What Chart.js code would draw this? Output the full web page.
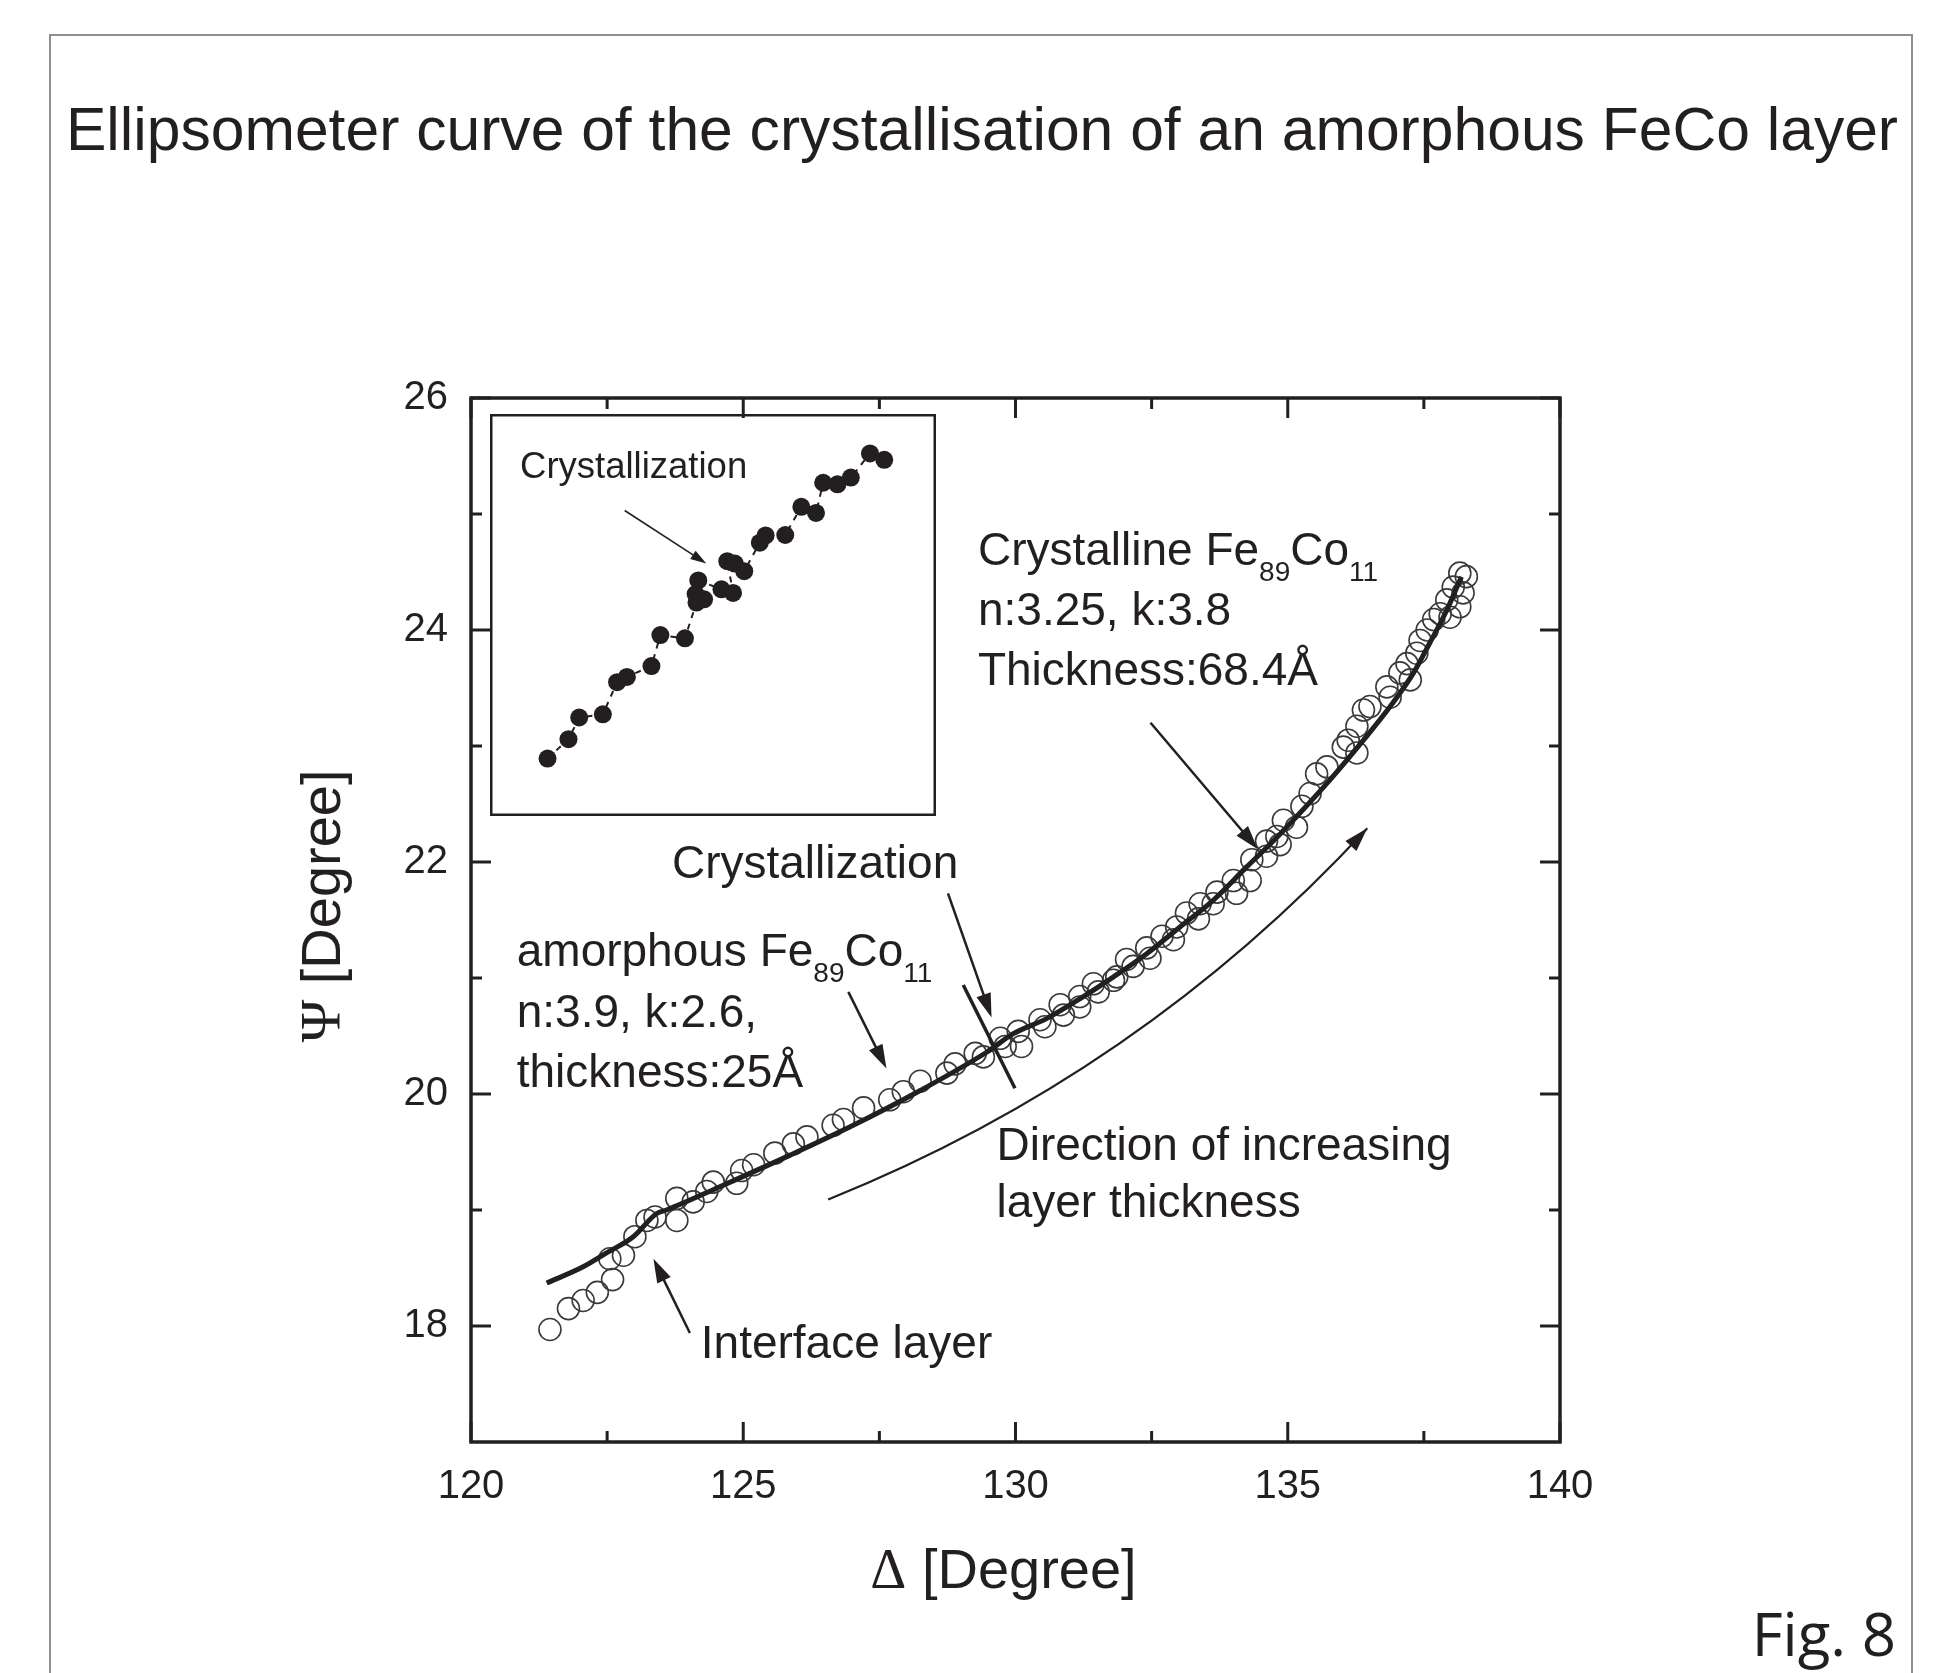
<!DOCTYPE html>
<html>
<head>
<meta charset="utf-8">
<title>Ellipsometer curve</title>
<script src="https://cdn.jsdelivr.net/npm/chart.js@4.4.1/dist/chart.umd.min.js"></script>
<style>
  html, body { margin: 0; padding: 0; background: #fff; }
  #wrap { position: relative; width: 1960px; height: 1673px; overflow: hidden; }
  #main { position: absolute; left: 0; top: 0; }
  #inset { position: absolute; left: 490px; top: 414px; }
</style>
</head>
<body>
<div id="wrap">
  <canvas id="main" width="1960" height="1673"></canvas>
  <canvas id="inset" width="446" height="402"></canvas>
</div>
<script>
// ---- data ----
var chartTitle = 'Ellipsometer curve of the crystallisation of an amorphous FeCo layer';
var figLabel = 'Fig. 8';

// measured points (open circles), Delta / Psi in degrees
var measDelta = [121.45, 121.79, 122.06, 122.32, 122.60, 122.55, 122.80, 123.01, 123.23, 123.38,
  123.78, 123.78, 124.08, 124.33, 124.45, 124.88, 124.97, 125.19, 125.58, 125.92,
  126.17, 126.65, 126.84, 127.21, 127.69, 127.94, 128.25, 128.74, 128.89, 129.26,
  129.41, 129.72, 129.81, 130.05, 130.11, 130.45, 130.54, 130.82, 130.88, 131.18,
  131.18, 131.43, 131.52, 131.80, 131.86, 132.04, 132.16, 132.41, 132.47, 132.69,
  132.90, 132.96, 133.14, 133.36, 133.39, 133.63, 133.70, 134.00, 134.06, 134.31,
  134.34, 134.61, 134.61, 134.80, 134.86, 134.92, 135.16, 135.26, 135.41, 135.53,
  135.72, 136.02, 136.11, 136.27, 136.27, 136.39, 136.51, 136.82, 136.88, 137.06,
  137.19, 137.25, 137.37, 137.43, 137.56, 137.68, 137.80, 137.92, 137.98, 138.04,
  138.16, 138.16, 138.22, 138.28];
var measPsi = [17.97, 18.15, 18.22, 18.29, 18.40, 18.58, 18.61, 18.77, 18.91, 18.94,
  18.91, 19.10, 19.07, 19.16, 19.24, 19.23, 19.34, 19.39, 19.49, 19.57,
  19.63, 19.73, 19.78, 19.88, 19.95, 20.02, 20.11, 20.18, 20.26, 20.35,
  20.32, 20.48, 20.41, 20.54, 20.41, 20.64, 20.58, 20.77, 20.68, 20.84,
  20.75, 20.95, 20.88, 20.98, 21.01, 21.16, 21.10, 21.26, 21.17, 21.36,
  21.33, 21.44, 21.56, 21.51, 21.64, 21.64, 21.74, 21.84, 21.73, 21.84,
  22.02, 22.05, 22.18, 22.22, 22.15, 22.36, 22.30, 22.48, 22.59, 22.76,
  22.82, 22.99, 23.05, 22.94, 23.17, 23.31, 23.34, 23.51, 23.42, 23.63,
  23.71, 23.57, 23.80, 23.91, 24.00, 24.09, 24.14, 24.26, 24.11, 24.37,
  24.49, 24.20, 24.32, 24.46];

// model curve (solid line)
var fitDelta = [121.39, 122.06, 122.49, 122.98, 123.41, 123.59, 124.57, 125.80, 127.02, 128.25,
  129.47, 129.96, 130.57, 131.18, 131.80, 132.41, 133.02, 133.63, 134.25, 134.67,
  135.16, 135.78, 136.39, 136.88, 137.31, 137.61, 137.92, 138.19];
var fitPsi = [18.37, 18.51, 18.63, 18.77, 18.97, 19.00, 19.20, 19.46, 19.73, 20.03,
  20.36, 20.52, 20.65, 20.82, 21.01, 21.21, 21.44, 21.67, 21.96, 22.15,
  22.39, 22.71, 23.05, 23.34, 23.63, 23.89, 24.17, 24.46];

// inset series (the inset has no axes; relative units 0-100 across the box)
var insetX = [12.9, 17.6, 20.0, 25.3, 28.5, 30.7, 36.2, 38.2, 43.7, 46.3, 48.0, 46.1, 46.7, 51.9,
  54.5, 53.2, 54.9, 57.0, 60.5, 61.8, 66.2, 69.8, 73.1, 74.7, 77.9, 80.9, 85.2, 88.4];
var insetY = [14.3, 19.1, 24.5, 25.3, 33.3, 34.6, 37.3, 45.0, 44.2, 53.1, 53.9, 55.2, 58.6, 56.4,
  55.5, 63.4, 62.8, 60.9, 68.0, 69.8, 69.9, 76.9, 75.4, 82.9, 82.5, 84.2, 90.2, 88.6];

var xTicks = [120, 125, 130, 135, 140];
var xMinor = [122.5, 127.5, 132.5, 137.5];
var yTicks = [18, 20, 22, 24, 26];
var yMinor = [19, 21, 23, 25];

// ---- styling ----
var INK = '#231f20';
var SANS = "'Liberation Sans', Arial, Helvetica, sans-serif";
var SERIF = "'Liberation Serif', 'Times New Roman', serif";

function pts(xs, ys) { return xs.map(function(x, i) { return { x: x, y: ys[i] }; }); }

// text parts: [string, isSubscript]
var notes = [
  { at: [129.31, 24.56], parts: [['Crystalline Fe', 0], ['89', 1], ['Co', 0], ['11', 1]] },
  { at: [129.31, 24.04], parts: [['n:3.25, k:3.8', 0]] },
  { at: [129.31, 23.53], parts: [['Thickness:68.4\u00c5', 0]] },
  { at: [123.69, 21.86], parts: [['Crystallization', 0]] },
  { at: [120.84, 21.10], parts: [['amorphous Fe', 0], ['89', 1], ['Co', 0], ['11', 1]] },
  { at: [120.84, 20.58], parts: [['n:3.9, k:2.6,', 0]] },
  { at: [120.84, 20.06], parts: [['thickness:25\u00c5', 0]] },
  { at: [124.22, 17.72], parts: [['Interface layer', 0]] },
  { at: [129.65, 19.43], parts: [['Direction of increasing', 0]] },
  { at: [129.65, 18.94], parts: [['layer thickness', 0]] }
];
var arrows = [
  [[132.48, 23.20], [134.45, 22.11]],
  [[128.76, 21.73], [129.56, 20.66]],
  [[126.93, 20.88], [127.63, 20.22]],
  [[124.02, 17.94], [123.35, 18.58]]
];
var crystMark = [[129.04, 20.94], [129.99, 20.05]];
var dirArc = [[126.56, 19.09], [132.28, 20.17], [136.46, 22.29]];

function arrowHead(c, tx, ty, fx, fy, len, wid) {
  var ang = Math.atan2(ty - fy, tx - fx);
  c.save();
  c.translate(tx, ty); c.rotate(ang);
  c.beginPath();
  c.moveTo(0, 0); c.lineTo(-len, wid / 2); c.lineTo(-len, -wid / 2); c.closePath();
  c.fill();
  c.restore();
}

function richText(c, parts, x, y, size, subSize, subDrop) {
  var cx = x;
  parts.forEach(function(p) {
    if (p[1]) {
      c.font = subSize + 'px ' + SANS;
      c.fillText(p[0], cx, y + subDrop);
    } else {
      c.font = size + 'px ' + SANS;
      c.fillText(p[0], cx, y);
    }
    cx += c.measureText(p[0]).width;
  });
}

var decorPlugin = {
  id: 'decor',
  beforeDraw: function(chart) {
    var c = chart.ctx;
    c.save();
    c.fillStyle = '#fff';
    c.fillRect(0, 0, chart.width, chart.height);
    c.restore();
  },
  afterDatasetsDraw: function(chart) {
    var c = chart.ctx, a = chart.chartArea, xs = chart.scales.x, ys = chart.scales.y;
    function X(v) { return xs.getPixelForValue(v); }
    function Y(v) { return ys.getPixelForValue(v); }
    function seg(x1, y1, x2, y2) { c.beginPath(); c.moveTo(x1, y1); c.lineTo(x2, y2); c.stroke(); }
    c.save();
    c.strokeStyle = INK; c.fillStyle = INK;

    // outer page frame
    c.strokeStyle = '#8f8f8f'; c.lineWidth = 2;
    c.strokeRect(50, 35, 1862, 1700);
    c.strokeStyle = INK;

    // plot frame and inward ticks on all four sides
    c.lineWidth = 3.5;
    c.strokeRect(a.left, a.top, a.right - a.left, a.bottom - a.top);
    c.lineWidth = 3;
    function xt(vals, len) { vals.forEach(function(v) { var p = X(v); seg(p, a.bottom, p, a.bottom - len); seg(p, a.top, p, a.top + len); }); }
    function yt(vals, len) { vals.forEach(function(v) { var p = Y(v); seg(a.left, p, a.left + len, p); seg(a.right, p, a.right - len, p); }); }
    xt(xTicks, 20); xt(xMinor, 11); yt(yTicks, 20); yt(yMinor, 11);

    // annotation arrows
    c.lineWidth = 2.5;
    arrows.forEach(function(ar) {
      var x1 = X(ar[0][0]), y1 = Y(ar[0][1]), x2 = X(ar[1][0]), y2 = Y(ar[1][1]);
      var ang = Math.atan2(y2 - y1, x2 - x1);
      seg(x1, y1, x2 - Math.cos(ang) * 18, y2 - Math.sin(ang) * 18);
      arrowHead(c, x2, y2, x1, y1, 24, 15);
    });
    c.lineWidth = 3.5;
    seg(X(crystMark[0][0]), Y(crystMark[0][1]), X(crystMark[1][0]), Y(crystMark[1][1]));

    // direction arc
    c.lineWidth = 2.2;
    var s = dirArc[0], k = dirArc[1], e = dirArc[2];
    c.beginPath();
    c.moveTo(X(s[0]), Y(s[1]));
    c.quadraticCurveTo(X(k[0]), Y(k[1]), X(e[0]), Y(e[1]));
    c.stroke();
    arrowHead(c, X(e[0]), Y(e[1]), X(k[0]), Y(k[1]), 24, 15);

    // annotation texts
    c.textAlign = 'left'; c.textBaseline = 'alphabetic';
    notes.forEach(function(n) { richText(c, n.parts, X(n.at[0]), Y(n.at[1]), 46, 28, 16); });

    // axis titles (greek letter in serif)
    function mixed(parts, cx, cy) {
      var w = 0;
      parts.forEach(function(p) { c.font = p[1]; w += c.measureText(p[0]).width; });
      var x = cx - w / 2;
      parts.forEach(function(p) { c.font = p[1]; c.fillText(p[0], x, cy); x += c.measureText(p[0]).width; });
    }
    mixed([['\u0394', '56px ' + SERIF], [' [Degree]', '56px ' + SANS]], (a.left + a.right) / 2 - 12, a.bottom + 146);
    c.save();
    c.translate(a.left - 131, (a.top + a.bottom) / 2 - 14);
    c.rotate(-Math.PI / 2);
    mixed([['\u03a8', '58px ' + SERIF], [' [Degree]', '56px ' + SANS]], 0, 0);
    c.restore();

    // figure title and label
    c.font = '60.6px ' + SANS; c.textAlign = 'center';
    c.fillText(chartTitle, 982, 150);
    c.font = "60px 'Open Sans', 'Noto Sans', sans-serif"; c.textAlign = 'right';
    c.fillText(figLabel, 1896, 1656);
    c.restore();
  }
};

Chart.defaults.font.family = SANS;
Chart.defaults.color = INK;

new Chart(document.getElementById('main'), {
  type: 'scatter',
  data: {
    datasets: [
      { label: 'fit', type: 'line', data: pts(fitDelta, fitPsi), borderColor: INK, borderWidth: 5,
        pointRadius: 0, fill: false, cubicInterpolationMode: 'monotone' },
      { label: 'measured', data: pts(measDelta, measPsi), pointRadius: 11, pointStyle: 'circle',
        backgroundColor: 'rgba(255,255,255,0)', borderColor: '#3a3a3a', borderWidth: 1.6 }
    ]
  },
  options: {
    responsive: false,
    devicePixelRatio: 1,
    animation: false,
    events: [],
    layout: { padding: { left: 371, right: 400, top: 398, bottom: 151 } },
    plugins: { legend: { display: false }, tooltip: { enabled: false } },
    scales: {
      x: {
        type: 'linear', min: 120, max: 140,
        afterBuildTicks: function(s) { s.ticks = xTicks.map(function(v) { return { value: v }; }); },
        afterFit: function(s) { s.height = 80; },
        grid: { display: false }, border: { display: false },
        ticks: { font: { size: 40 }, color: INK, padding: 13, maxRotation: 0 }
      },
      y: {
        type: 'linear', min: 17, max: 26,
        afterBuildTicks: function(s) { s.ticks = yTicks.map(function(v) { return { value: v }; }); },
        afterFit: function(s) { s.width = 100; },
        grid: { display: false }, border: { display: false },
        ticks: { font: { size: 40 }, color: INK, padding: 15 }
      }
    }
  },
  plugins: [decorPlugin]
});

// inset
var insetPlugin = {
  id: 'insetDecor',
  afterDatasetsDraw: function(chart) {
    var c = chart.ctx, xs = chart.scales.x, ys = chart.scales.y;
    c.save();
    c.strokeStyle = INK; c.fillStyle = INK;
    c.lineWidth = 2.5;
    c.strokeRect(1.25, 1.25, chart.width - 2.5, chart.height - 2.5);
    c.font = '36.5px ' + SANS; c.textAlign = 'center'; c.textBaseline = 'alphabetic';
    c.fillText('Crystallization', xs.getPixelForValue(32.2), ys.getPixelForValue(84.0));
    var x1 = xs.getPixelForValue(30.2), y1 = ys.getPixelForValue(76.0);
    var x2 = xs.getPixelForValue(48.5), y2 = ys.getPixelForValue(62.8);
    var ang = Math.atan2(y2 - y1, x2 - x1);
    c.lineWidth = 1.6;
    c.beginPath(); c.moveTo(x1, y1); c.lineTo(x2 - Math.cos(ang) * 14, y2 - Math.sin(ang) * 14); c.stroke();
    arrowHead(c, x2, y2, x1, y1, 16, 10);
    c.restore();
  }
};

new Chart(document.getElementById('inset'), {
  type: 'scatter',
  data: {
    datasets: [{
      data: pts(insetX, insetY), showLine: true, borderColor: INK, borderWidth: 2,
      borderDash: [6, 6], pointRadius: 9, pointBackgroundColor: INK, pointBorderColor: INK,
      pointBorderWidth: 0
    }]
  },
  options: {
    responsive: false,
    devicePixelRatio: 1,
    animation: false,
    events: [],
    layout: { padding: 0, autoPadding: false },
    plugins: { legend: { display: false }, tooltip: { enabled: false } },
    scales: {
      x: { display: false, min: 0, max: 100 },
      y: { display: false, min: 0, max: 100 }
    }
  },
  plugins: [insetPlugin]
});
</script>
</body>
</html>
